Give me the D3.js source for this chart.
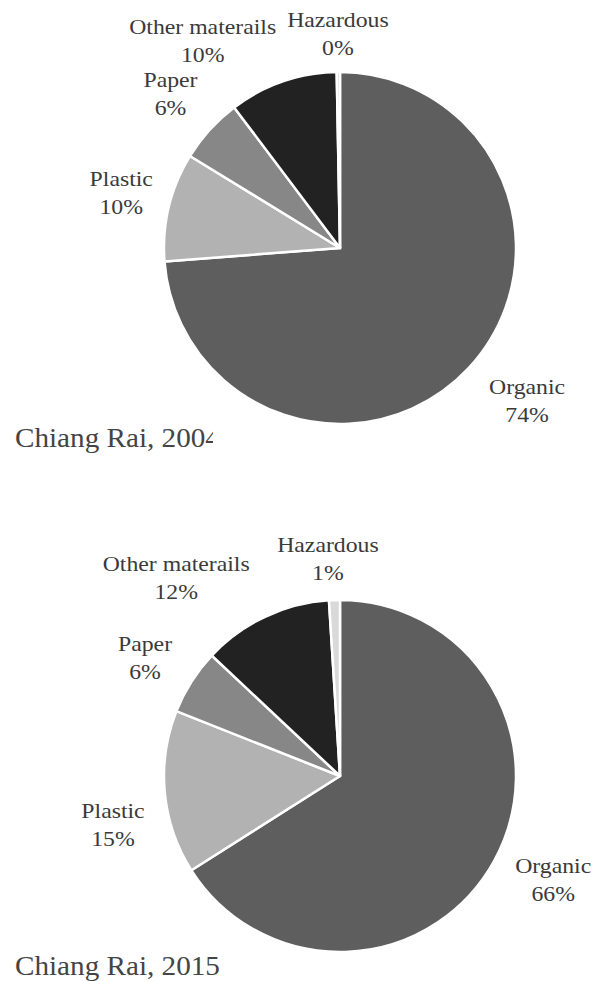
<!DOCTYPE html>
<html>
<head>
<meta charset="utf-8">
<script src="https://cdn.jsdelivr.net/npm/d3@7"></script>
<style>
  body { margin: 0; background: #fff; }
  svg text { font-family: "Liberation Serif", "Times New Roman", Times, serif; fill: #3a3a3a; }
  .lbl { font-size: 22px; }
  .title { font-size: 27px; fill: #444; }
</style>
</head>
<body>
<svg width="600" height="981"></svg>
<script>
var categories = ["Organic", "Plastic", "Paper", "Other materails", "Hazardous"];
var values2004 = [74, 10, 6, 10, 0.3];
var values2015 = [66, 15, 6, 12, 1];
var titles = ["Chiang Rai, 2004", "Chiang Rai, 2015"];

var colors = ["#5e5e5e", "#b2b2b2", "#878787", "#222222", "#d9d9d9"];

var svg = d3.select("svg");
var radius = 176;
var labelRadius = 225;
var stretch = "scale(1.08,1)"; // source image is a little wide

// label nudges away from the centroid, per chart (Excel "best fit" style)
var nudges = [
  [[22, 0], [0, -2], [-3, -3], [-64, 6], [0, 11]],
  [[16, -4], [-3, 28], [-5, 3], [-68, 6], [-5, 8]]
];

var charts = [
  {values: values2004, cy: 248, titleY: 447, clip: true},
  {values: values2015, cy: 776, titleY: 975, clip: false}
];

var pie = d3.pie().sort(null).value(function(d) { return d; });
var arc = d3.arc().innerRadius(0).outerRadius(radius);
var labelArc = d3.arc().innerRadius(labelRadius).outerRadius(labelRadius);

svg.append("clipPath").attr("id", "titleclip")
  .append("rect").attr("x", 0).attr("y", 400).attr("width", 213).attr("height", 80);

charts.forEach(function(c, ci) {
  var g = svg.append("g").attr("transform", "translate(340," + c.cy + ")");
  var sum = d3.sum(c.values);
  var arcs = pie(c.values);

  g.selectAll("path")
    .data(arcs)
    .enter().append("path")
    .attr("d", arc)
    .attr("fill", function(d, i) { return colors[i]; })
    .attr("stroke", "#fff")
    .attr("stroke-width", 2.5)
    .attr("stroke-linejoin", "round");

  var lab = g.selectAll(".lbl")
    .data(arcs)
    .enter().append("text")
    .attr("class", "lbl")
    .attr("text-anchor", "middle")
    .attr("transform", function(d, i) {
      var p = labelArc.centroid(d);
      return "translate(" + (p[0] + nudges[ci][i][0]) + "," + (p[1] + nudges[ci][i][1]) + ") " + stretch;
    });
  lab.append("tspan").attr("x", 0).attr("y", -7)
    .text(function(d, i) { return categories[i]; });
  lab.append("tspan").attr("x", 0).attr("y", 21)
    .text(function(d) { return Math.round(d.value / sum * 100) + "%"; });

  var tg = svg.append("g");
  if (c.clip) tg.attr("clip-path", "url(#titleclip)");
  tg.append("text")
    .attr("class", "title")
    .attr("transform", "translate(15," + c.titleY + ") " + stretch)
    .text(titles[ci]);
});
</script>
</body>
</html>
